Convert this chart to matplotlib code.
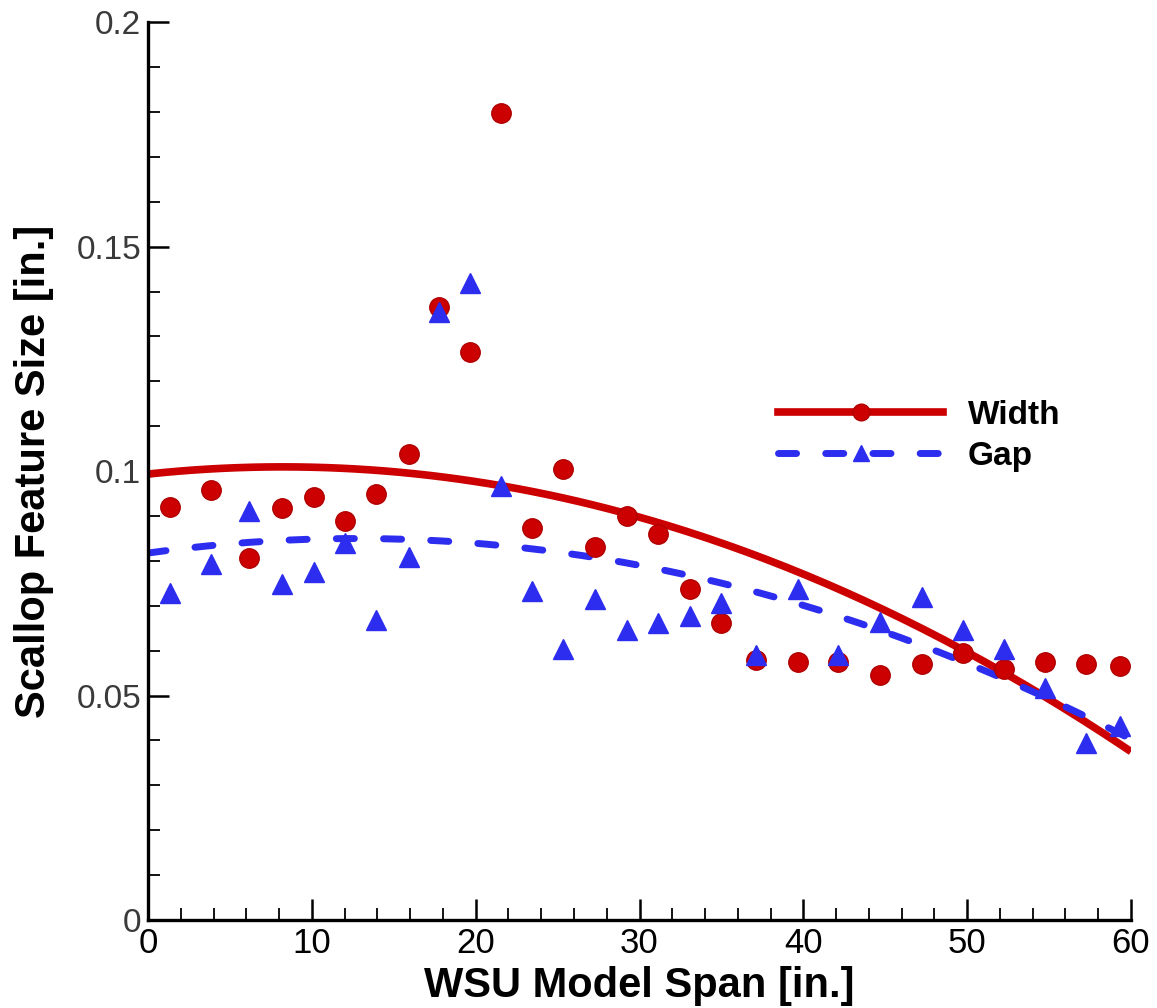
import numpy as np
import matplotlib
matplotlib.use("Agg")
import matplotlib.pyplot as plt
from matplotlib.ticker import MultipleLocator

# spanwise station positions [in.]
span = [1.34, 3.85, 6.13, 8.16, 10.1, 12.03, 13.92, 15.9, 17.78, 19.66,
        21.53, 23.46, 25.35, 27.29, 29.22, 31.15, 33.09, 34.96, 37.12, 39.66,
        42.1, 44.69, 47.27, 49.77, 52.26, 54.76, 57.24, 59.34]

# measured scallop width [in.]
width = [0.0919, 0.0958, 0.0807, 0.0918, 0.0943, 0.0889, 0.0949, 0.1039, 0.1366, 0.1266,
         0.1798, 0.0874, 0.1004, 0.0831, 0.0900, 0.0859, 0.0737, 0.0662, 0.0579, 0.0574,
         0.0575, 0.0546, 0.0570, 0.0594, 0.0560, 0.0575, 0.0570, 0.0566]

# measured scallop gap [in.]
gap = [0.0729, 0.0794, 0.0911, 0.0748, 0.0776, 0.0839, 0.0668, 0.0809, 0.1355, 0.1418,
       0.0967, 0.0733, 0.0603, 0.0716, 0.0646, 0.0662, 0.0678, 0.0707, 0.0590, 0.0737,
       0.0590, 0.0664, 0.0720, 0.0646, 0.0603, 0.0516, 0.0394, 0.0432]

RED = "#cc0000"
BLUE = "#2d2df0"
DASH = (0, (2.6, 4.2))
FONT = "Liberation Sans"

fig = plt.figure(figsize=(11.57, 10.08), dpi=100)
ax = fig.add_axes([0.128, 0.0873, 0.8495, 0.8907])

# quadratic trend lines through each data set
xs = np.linspace(0, 60, 200)
w_fit = np.polyval(np.polyfit(span, width, 2), xs)
g_fit = np.polyval(np.polyfit(span, gap, 2), xs)

ax.plot(xs, w_fit, color=RED, lw=5.5, solid_capstyle="butt", zorder=2)
ax.plot(xs, g_fit, color=BLUE, lw=5, ls=DASH, dash_capstyle="round", zorder=2)
ax.plot(span, width, "o", color=RED, mec="#b00000", ms=14, zorder=3)
ax.plot(span, gap, "^", color=BLUE, mec=BLUE, ms=15, zorder=3)

# legend proxies: line + marker
h1, = ax.plot([], [], color=RED, lw=5.5, marker="o", ms=12, mec="#b00000")
h2, = ax.plot([], [], color=BLUE, lw=5, ls=DASH, dash_capstyle="round",
              marker="^", ms=12)
ax.legend([h1, h2], ["Width", "Gap"], loc="center left",
          bbox_to_anchor=(0.641, 0.539), frameon=False, handlelength=4.95,
          handletextpad=0.75, labelspacing=0.3, borderpad=0, borderaxespad=0,
          prop={"family": FONT, "weight": "bold", "size": 24})

ax.set_xlim(0, 60)
ax.set_ylim(0, 0.2)
ax.xaxis.set_major_locator(MultipleLocator(10))
ax.xaxis.set_minor_locator(MultipleLocator(2))
ax.yaxis.set_minor_locator(MultipleLocator(0.01))
ax.set_yticks([0, 0.05, 0.1, 0.15, 0.2])
ax.set_yticklabels(["0", "0.05", "0.1", "0.15", "0.2"])

for s in ["top", "right"]:
    ax.spines[s].set_visible(False)
for s in ["left", "bottom"]:
    ax.spines[s].set_linewidth(2.4)

ax.tick_params(which="major", direction="in", length=15, width=1.8)
ax.tick_params(which="minor", direction="in", length=8.5, width=1.3)
ax.tick_params(axis="y", which="major", pad=5, labelsize=24, labelcolor="#3a3a3a")
ax.tick_params(axis="x", which="major", pad=5, labelsize=25)
for lab in ax.get_xticklabels() + ax.get_yticklabels():
    lab.set_family(FONT)

ax.set_xlabel("WSU Model Span [in.]", fontsize=30, fontweight="bold",
              family=FONT, labelpad=4)
ax.set_ylabel("Scallop Feature Size [in.]", fontsize=30, fontweight="bold",
              family=FONT, labelpad=16)

fig.savefig("out.png", dpi=100, facecolor="white")
